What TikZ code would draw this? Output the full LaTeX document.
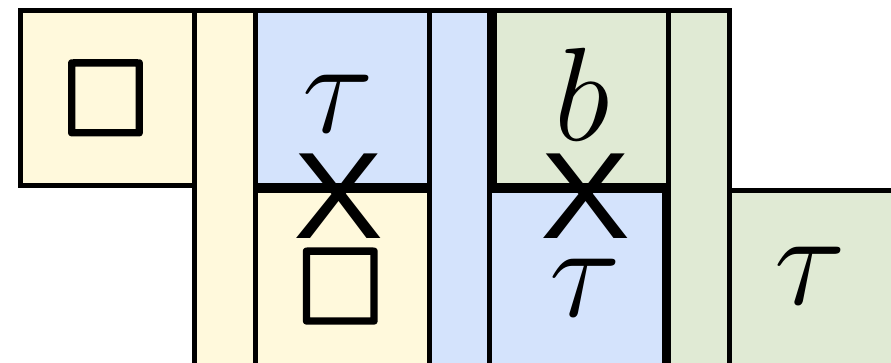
\RequirePackage{fix-cm}
\documentclass[tikz,border=0pt]{standalone}
\usepackage{amssymb}
\usepackage{fontspec}
\newfontfamily\xfont{Liberation Sans}
\definecolor{cy}{RGB}{255,249,220}
\definecolor{cb}{RGB}{212,227,252}
\definecolor{cg}{RGB}{224,234,212}
% glyph drawn with an added outline stroke (PDF text render mode 2)
\newcommand\strokedglyph[1]{\special{pdf:literal direct 2 Tr 3 w 1 j}#1\special{pdf:literal direct 0 Tr 0 j 5 w}}
\begin{document}
\begin{tikzpicture}[x=1pt,y=-1pt,
  bx/.style={draw=black, line width=5pt, anchor=north west, inner sep=0pt, outer sep=0pt},
  lbl/.style={inner sep=0pt, outer sep=0pt, font=\fontsize{133}{140}\selectfont},
  sq/.style={inner sep=0pt, outer sep=0pt, font=\fontsize{108}{116}\selectfont},
  cross/.style={inner sep=0pt, outer sep=0pt, font=\xfont\fontsize{123}{130}\selectfont, xscale=1.1}]
\useasboundingbox (0,0) rectangle (891,363);
\clip (0,0) rectangle (891,363);
% strips
\node[bx, fill=cy, minimum width=61pt, minimum height=360pt] (ys) at (194.5,10.8) {};
\node[bx, fill=cb, minimum width=60.8pt, minimum height=360pt] (bs) at (429,10.8) {};
\node[bx, fill=cg, minimum width=61pt, minimum height=360pt] (gs) at (668.8,10.8) {};
% upper boxes
\node[bx, fill=cy, minimum width=174.5pt, minimum height=174.7pt] (A) at (20,10.8) {};
\node[bx, fill=cb, minimum width=173.5pt, minimum height=174.7pt] (T1) at (255.5,10.8) {};
\node[bx, fill=cg, minimum width=174.3pt, minimum height=174.7pt] (B) at (494.5,10.8) {};
% lower boxes
\node[bx, fill=cy, minimum width=173.5pt, minimum height=180pt] (S2) at (255.5,190.8) {};
\node[bx, fill=cb, minimum width=174.7pt, minimum height=180pt] (T2) at (489.8,190.8) {};
\node[bx, fill=cg, minimum width=175pt, minimum height=180pt] (T3) at (729.8,190.8) {};
% labels
\node[sq] (lA) at (105.5,98.5) {\strokedglyph{$\square$}};
\node[lbl] (lT1) at (338,104) {$\tau$};
\node[lbl] (lB) at (581.7,94) {$b$};
\node[sq] (lS2) at (340.3,286.7) {\strokedglyph{$\square$}};
\node[lbl] (lT2) at (585,288) {$\tau$};
\node[lbl] (lT3) at (810.5,276) {$\tau$};
% crosses
\node[cross] (x1) at (339,196) {X};
\node[cross] (x2) at (586,196) {X};
\end{tikzpicture}
\end{document}
